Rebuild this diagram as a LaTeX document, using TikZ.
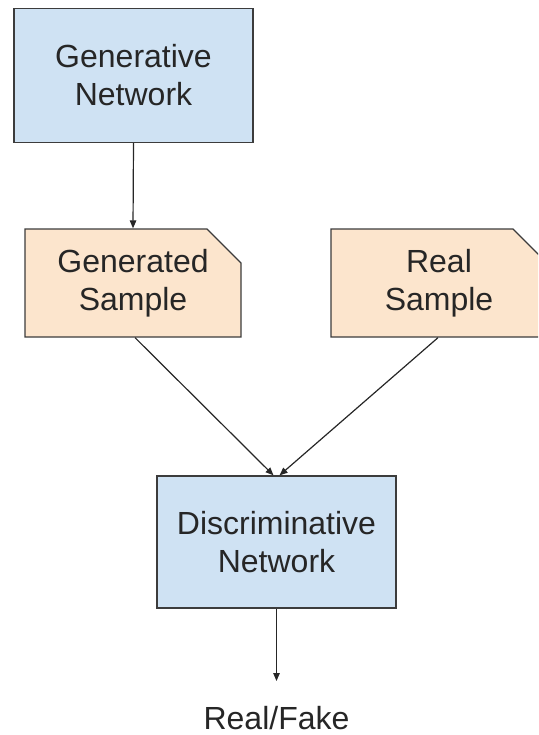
\documentclass[tikz,border=0pt]{standalone}
\usepackage{fontspec}
\setmainfont{Liberation Sans}
\usetikzlibrary{shapes.misc,arrows.meta}
\definecolor{netblue}{HTML}{CFE2F3}
\definecolor{sampleorange}{HTML}{FCE5CD}
\definecolor{edgegray}{HTML}{3C3C3C}
\begin{document}
\begin{tikzpicture}[x=1pt,y=-1pt,
  lbl/.style={font=\fontsize{32}{38}\selectfont, align=center, text=black!85},
  netbox/.style={lbl, rectangle, draw=edgegray, line width=1.3pt, fill=netblue,
    minimum width=239pt, minimum height=134pt, inner sep=0pt},
  samplebox/.style={lbl, chamfered rectangle, chamfered rectangle corners=north east,
    chamfered rectangle xsep=17pt, chamfered rectangle ysep=17pt,
    draw=edgegray, line width=1.3pt, fill=sampleorange,
    minimum width=216pt, minimum height=108pt, inner sep=0pt},
  arr/.style={draw=black!85, line width=1.2pt, -{Triangle[length=8pt,width=6.5pt]}}
]
\useasboundingbox (0,0) rectangle (538,735);
\clip (0,0) rectangle (538,735);
\node[netbox] (gen) at (133.5,75.5) {Generative\\Network};
\node[samplebox] (gs) at (133,283) {Generated\\Sample};
\node[samplebox] (rs) at (439,283) {Real\\Sample};
\node[netbox, minimum height=132pt] (disc) at (276.5,542) {Discriminative\\Network};
\node[lbl, anchor=base, inner sep=0pt] (out) at (276.5,729) {Real/Fake};
\coordinate (outtip) at (276.5,681);
\draw[arr] (gen.south) -- (gs.north);
\draw[arr] ([xshift=2pt]gs.south) -- ([xshift=-3pt]disc.north);
\draw[arr] ([xshift=-1pt]rs.south) -- ([xshift=3pt]disc.north);
\draw[arr] (disc.south) -- (outtip);
\end{tikzpicture}
\end{document}
